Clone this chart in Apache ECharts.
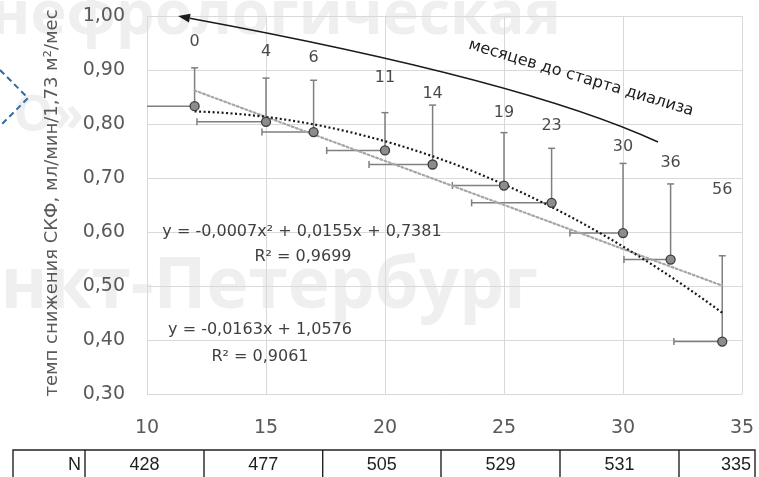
<!DOCTYPE html>
<html><head><meta charset="utf-8">
<script src="https://cdn.jsdelivr.net/npm/echarts@6/dist/echarts.min.js"></script>
<style>html,body{margin:0;padding:0;background:#fff;}#c{width:759px;height:477px;}</style>
</head><body><div id="c"></div>
<script>
// ---- data ----
const xValues    = [12, 15, 17, 20, 22, 25, 27, 30, 32, 34.17];
const yValues    = [0.833, 0.804, 0.785, 0.751, 0.725, 0.686, 0.654, 0.598, 0.549, 0.397];
const yErrTop    = [0.904, 0.885, 0.881, 0.821, 0.835, 0.784, 0.755, 0.727, 0.689, 0.556];
const xErrLeft   = [9.0, 12.1, 14.83, 17.55, 19.33, 22.83, 23.64, 27.77, 30.04, 32.14];
const monthLabels = ['0','4','6','11','14','19','23','30','36','56'];
const monthLabelY = [0.952, 0.933, 0.922, 0.885, 0.856, 0.820, 0.796, 0.757, 0.728, 0.678];
const polyCoef = [-0.0007, 0.0155, 0.7381];   // y = a x^2 + b x + c
const linCoef  = [-0.0163, 1.0576];           // y = a x + b
const polyText = ['y = -0,0007x² + 0,0155x + 0,7381', 'R² = 0,9699'];
const linText  = ['y = -0,0163x + 1,0576', 'R² = 0,9061'];
const tableRow = ['N', '428', '477', '505', '529', '531', '335'];
const yTitle = 'темп снижения СКФ, мл/мин/1,73 м²/мес';
const arrowText = 'месяцев до старта диализа';

const FONT = '"DejaVu Sans", sans-serif';
const chart = echarts.init(document.getElementById('c'));

const x0 = xValues[0], x1 = xValues[xValues.length - 1];
const polyLine = [];
for (let x = x0; x <= x1 + 1e-9; x += 0.25) {
  const xx = Math.min(x, x1);
  polyLine.push([xx, polyCoef[0]*xx*xx + polyCoef[1]*xx + polyCoef[2]]);
}
if (polyLine[polyLine.length-1][0] < x1) polyLine.push([x1, polyCoef[0]*x1*x1 + polyCoef[1]*x1 + polyCoef[2]]);
const linLine = [[x0, linCoef[0]*x0 + linCoef[1]], [x1, linCoef[0]*x1 + linCoef[1]]];

const errData = xValues.map((x, i) => [x, yValues[i], yErrTop[i], xErrLeft[i]]);
const ptData = xValues.map((x, i) => [x, yValues[i]]);
const lblData = xValues.map((x, i) => [x, monthLabelY[i]]);

// arrow geometry (annotation)
const P0 = [178, 16], C = [524, 80], P2 = [658, 142];
const dx = P0[0]-C[0], dy = P0[1]-C[1], dl = Math.hypot(dx, dy);
const ux = dx/dl, uy = dy/dl;
const hl = 12, hw = 4.5;
const base = [P0[0]-ux*hl, P0[1]-uy*hl];
const head = [P0, [base[0]-uy*hw, base[1]+ux*hw], [base[0]+uy*hw, base[1]-ux*hw]];

// table cells
const tEdges = [13, 85, 204, 322.7, 441, 560, 679, 755];
const tableEls = [];
tableEls.push({type:'rect', shape:{x:tEdges[0], y:450, width:tEdges[7]-tEdges[0], height:40},
  style:{fill:'none', stroke:'#222', lineWidth:1.4}, silent:true});
for (let i = 1; i < tEdges.length-1; i++) {
  tableEls.push({type:'line', shape:{x1:tEdges[i], y1:450, x2:tEdges[i], y2:490},
    style:{stroke:'#222', lineWidth:1.4}, silent:true});
}
tableRow.forEach((t, i) => {
  let x, al;
  if (i === 0) { x = tEdges[1]-4; al = 'right'; }
  else if (i === tableRow.length-1) { x = tEdges[7]-4; al = 'right'; }
  else { x = (tEdges[i]+tEdges[i+1])/2; al = 'center'; }
  tableEls.push({type:'text', x:x, y:465.5, silent:true,
    style:{text:t, fill:'#1f1f1f', font:'18px "Liberation Sans Narrow", "Liberation Sans", sans-serif', align:al, verticalAlign:'middle'}});
});

const wm = '#efefef';
const option = {
  animation: false,
  backgroundColor: '#fff',
  grid: {left:147, right:17, top:16, bottom:83},
  xAxis: {type:'value', min:10, max:35, interval:5,
    axisLine:{show:false}, axisTick:{show:false},
    splitLine:{show:true, lineStyle:{color:'#d9d9d9', width:1}},
    axisLabel:{fontSize:19, color:'#595959', fontFamily:FONT, margin:25}},
  yAxis: {type:'value', min:0.3, max:1.0, interval:0.1,
    axisLine:{show:false}, axisTick:{show:false},
    splitLine:{show:true, lineStyle:{color:'#d9d9d9', width:1}},
    axisLabel:{fontSize:19, color:'#595959', fontFamily:FONT, margin:22,
      formatter: v => v.toFixed(2).replace('.', ',')}},
  graphic: {elements: [
    {type:'text', left:-10, top:-14, z:-10, silent:true, style:{text:'нефрологическая', fill:wm, font:'bold 61px "Open Sans", sans-serif'}},
    {type:'text', x:84, y:117, z:-10, silent:true, style:{text:'О»', fill:wm, font:'bold 50px "Open Sans", sans-serif', align:'right', verticalAlign:'middle'}},
    {type:'text', x:538, y:288, z:-10, silent:true, style:{text:'Санкт-Петербург', fill:wm, font:'bold 71px "Open Sans", sans-serif', align:'right', verticalAlign:'middle'}},
    {type:'polygon', z:5, silent:true, shape:{points:[[0,70],[28,98],[0,126],[-28,98]]},
      style:{fill:'none', stroke:'#2e6ca4', lineWidth:2, lineDash:[6,4]}},
    {type:'text', x:52, y:203, rotation:Math.PI/2, silent:true,
      style:{text:yTitle, fill:'#595959', font:'18px ' + FONT, align:'center', verticalAlign:'middle'}},
    {type:'bezierCurve', silent:true, z:50,
      shape:{x1:base[0], y1:base[1], cpx1:C[0], cpy1:C[1], x2:P2[0], y2:P2[1]},
      style:{stroke:'#1a1a1a', lineWidth:1.5, fill:'none'}},
    {type:'polygon', silent:true, z:50, shape:{points:head}, style:{fill:'#1a1a1a'}},
    {type:'text', x:581, y:78, rotation:-0.29, silent:true, z:50,
      style:{text:arrowText, fill:'#1a1a1a', font:'16px ' + FONT, align:'center', verticalAlign:'middle'}},
    {type:'text', x:302, y:232, silent:true, z:50, style:{text:polyText[0], fill:'#404040', font:'16px ' + FONT, align:'center', verticalAlign:'middle'}},
    {type:'text', x:303, y:257, silent:true, z:50, style:{text:polyText[1], fill:'#404040', font:'16px ' + FONT, align:'center', verticalAlign:'middle'}},
    {type:'text', x:260, y:330, silent:true, z:50, style:{text:linText[0], fill:'#404040', font:'16px ' + FONT, align:'center', verticalAlign:'middle'}},
    {type:'text', x:260, y:357, silent:true, z:50, style:{text:linText[1], fill:'#404040', font:'16px ' + FONT, align:'center', verticalAlign:'middle'}}
  ].concat(tableEls)},
  series: [
    {type:'custom', name:'err', z:3, data: errData,
      renderItem: function(params, api) {
        const p = api.coord([api.value(0), api.value(1)]);
        const t = api.coord([api.value(0), api.value(2)]);
        const l = api.coord([api.value(3), api.value(1)]);
        const cs = params.coordSys;
        const st = {stroke:'#7f7f7f', lineWidth:1.5};
        const cap = 3.5;
        const ch = [
          {type:'line', shape:{x1:p[0], y1:p[1], x2:t[0], y2:t[1]}, style:st},
          {type:'line', shape:{x1:t[0]-cap, y1:t[1], x2:t[0]+cap, y2:t[1]}, style:st}
        ];
        let lx = l[0];
        if (lx < cs.x) { lx = cs.x; }
        else ch.push({type:'line', shape:{x1:lx, y1:l[1]-cap, x2:lx, y2:l[1]+cap}, style:st});
        ch.push({type:'line', shape:{x1:lx, y1:p[1], x2:p[0], y2:p[1]}, style:st});
        return {type:'group', children:ch};
      }},
    {type:'line', data: linLine, showSymbol:false, z:4, silent:true,
      lineStyle:{color:'#a6a6a6', width:2.2, type:[2,2.5], cap:'round'}},
    {type:'line', data: polyLine, showSymbol:false, z:4, silent:true,
      lineStyle:{color:'#1a1a1a', width:2.2, type:[2,2.5]}},
    {type:'scatter', data: ptData, symbol:'circle', symbolSize:9, z:6,
      itemStyle:{color:'#8c8c8c', borderColor:'#3c3c3c', borderWidth:1.3, opacity:1}},
    {type:'scatter', data: lblData, symbolSize:0, z:7, silent:true,
      label:{show:true, position:'inside', fontSize:16, fontFamily:FONT, color:'#1a1a1a',
        formatter: p => monthLabels[p.dataIndex]}}
  ]
};
chart.setOption(option);
</script>
</body></html>
